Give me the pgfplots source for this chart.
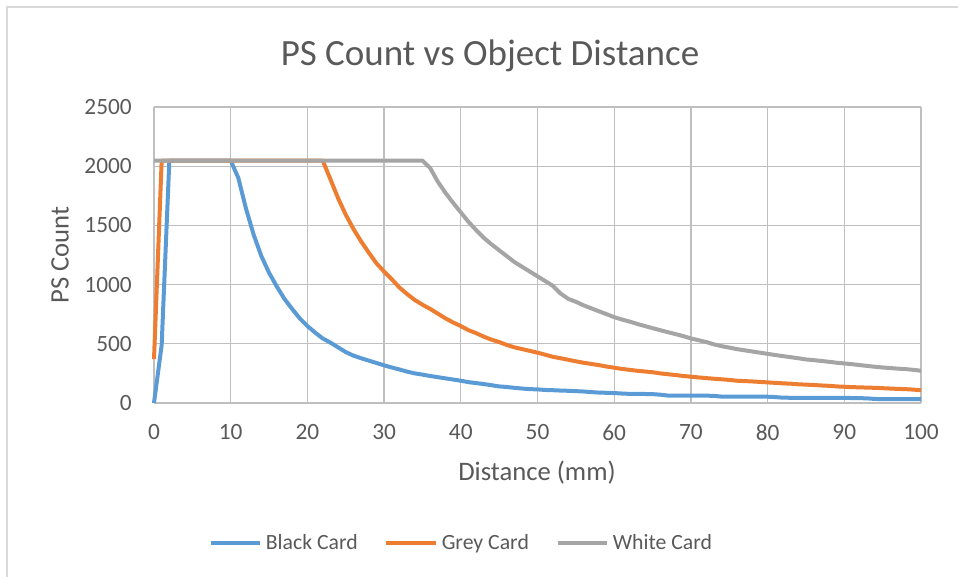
\documentclass[border=0pt]{standalone}
\usepackage{pgfplots}
\pgfplotsset{compat=1.18}
\usepackage{fontspec}
\setmainfont{Carlito}
\definecolor{cblue}{HTML}{5B9BD5}
\definecolor{corange}{HTML}{ED7D31}
\definecolor{cgray}{HTML}{A5A5A5}
\definecolor{grid}{HTML}{D9D9D9}
\definecolor{axl}{HTML}{BFBFBF}
\definecolor{txt}{HTML}{595959}
\begin{document}
\begin{tikzpicture}[x=0.75pt,y=0.75pt]
\path[use as bounding box] (0,0) rectangle (958,577);
\draw[grid,line width=1.5pt] (7,0) -- (7,570) -- (958,570);
\begin{axis}[
  at={(115.5pt,130.5pt)}, anchor=south west,
  width=575.25pt, height=222pt, scale only axis,
  xmin=0, xmax=100, ymin=0, ymax=2500,
  xtick={0,10,...,100}, ytick={0,500,...,2500},
  grid=major, major grid style={grid, line width=1pt},
  axis line style={draw=none},
  major tick length=0pt,
  tick label style={font=\fontsize{17.5}{20}\selectfont, text=txt, inner sep=0pt},
  xticklabel shift=15.75pt, yticklabel shift=16.5pt,
  /pgf/number format/.cd, assume math mode=true, set thousands separator={},
  /pgfplots/.cd,
  clip=false,
  legend columns=3,
  legend style={draw=none, fill=none, at={(0.402,-0.473)}, anchor=center,
    font=\fontsize{16.3}{20}\selectfont, text=txt, inner sep=0pt,
    nodes={inner xsep=3pt},
    /tikz/every even column/.append style={column sep=17pt}},
  legend cell align=left,
  legend image code/.code={\draw[#1] (0pt,0pt) -- (37pt,0pt);},
]
\draw[axl, line width=1.5pt] (axis cs:0,0) -- (axis cs:100,0);
\addplot[cblue, line width=3pt, line join=round] table {
x y
0 0
1 490
2 2047
3 2047
4 2047
5 2047
6 2047
7 2047
8 2047
9 2047
10 2047
11 1900
12 1640
13 1420
14 1240
15 1100
16 985
17 880
18 795
19 715
20 650
21 595
22 545
23 510
24 470
25 430
26 400
27 378
28 358
29 338
30 318
31 300
32 283
33 265
34 250
35 240
36 228
37 218
38 208
39 198
40 188
41 176
42 168
43 160
44 150
45 140
46 135
47 128
48 122
49 117
50 115
51 110
52 108
53 105
54 103
55 100
56 97
57 92
58 88
59 86
60 84
61 80
62 77
63 76
64 76
65 75
66 70
67 63
68 62
69 62
70 62
71 62
72 62
73 60
74 54
75 54
76 54
77 54
78 54
79 54
80 53
81 50
82 45
83 44
84 44
85 44
86 44
87 44
88 44
89 44
90 43
91 42
92 41
93 39
94 34
95 33
96 33
97 33
98 33
99 33
100 33
};
\addlegendentry{Black Card}
\addplot[corange, line width=3pt, line join=round] table {
x y
0 371
1 2047
2 2047
5 2047
10 2047
15 2047
20 2047
21 2047
22 2047
23 1890
24 1730
25 1590
26 1470
27 1365
28 1270
29 1180
30 1110
31 1045
32 975
33 920
34 870
35 830
36 795
37 755
38 715
39 680
40 650
41 615
42 590
43 560
44 535
45 515
46 490
47 470
48 455
49 440
50 425
51 408
52 390
53 378
54 365
55 352
56 340
57 330
58 320
59 308
60 298
61 288
62 280
63 272
64 266
65 260
66 250
67 243
68 236
69 228
70 222
71 216
72 210
73 205
74 200
75 195
76 188
77 185
78 182
79 178
80 174
81 170
82 166
83 163
84 158
85 155
86 152
87 148
88 145
89 140
90 137
91 134
92 132
93 130
94 128
95 125
96 122
97 119
98 117
99 113
100 108
};
\addlegendentry{Grey Card}
\addplot[cgray, line width=3pt, line join=round] table {
x y
0 2047
5 2047
10 2047
15 2047
20 2047
25 2047
30 2047
35 2047
36 1985
37 1870
38 1775
39 1690
40 1610
41 1530
42 1460
43 1395
44 1340
45 1290
46 1240
47 1190
48 1150
49 1110
50 1070
51 1030
52 990
53 925
54 880
55 855
56 825
57 800
58 775
59 750
60 725
61 705
62 688
63 668
64 650
65 632
66 615
67 598
68 582
69 565
70 545
71 530
72 515
73 495
74 480
75 468
76 455
77 445
78 435
79 425
80 415
81 405
82 396
83 387
84 378
85 368
86 362
87 355
88 348
89 340
90 334
91 328
92 320
93 313
94 306
95 300
96 295
97 290
98 286
99 280
100 272
};
\addlegendentry{White Card}
\end{axis}
\node[text=txt, font=\fontsize{27.75}{32}\selectfont] at (490,521) {PS Count vs Object Distance};
\node[text=txt, font=\fontsize{20}{24}\selectfont, rotate=90] at (60,322) {PS Count};
\node[text=txt, font=\fontsize{20}{24}\selectfont] at (537,104) {Distance (mm)};
\end{tikzpicture}
\end{document}
